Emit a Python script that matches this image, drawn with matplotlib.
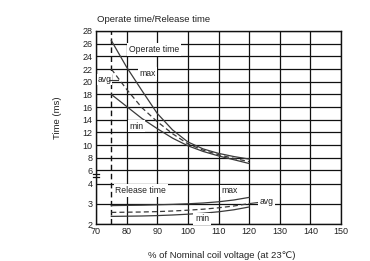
import numpy as np
from matplotlib import pyplot as plt

# coil voltage (% of nominal)
volt = [75, 80, 85, 90, 95, 100, 105, 110, 115, 120]

# operate time (ms)
op_max = [26.5, 22.3, 18.6, 15.0, 12.4, 10.5, 9.4, 8.7, 8.2, 7.8]
op_avg = [22.0, 18.8, 15.9, 13.7, 11.8, 10.2, 9.2, 8.5, 7.9, 7.4]
op_min = [18.0, 16.1, 14.2, 12.6, 11.1, 9.9, 9.0, 8.3, 7.7, 7.1]

# release time (ms)
rel_max = [2.92, 2.93, 2.94, 2.96, 2.98, 3.01, 3.05, 3.11, 3.2, 3.33]
rel_avg = [2.58, 2.59, 2.6, 2.62, 2.65, 2.69, 2.74, 2.81, 2.9, 3.02]
rel_min = [2.38, 2.39, 2.4, 2.42, 2.45, 2.49, 2.54, 2.61, 2.71, 2.85]

xticks = [70, 80, 90, 100, 110, 120, 130, 140, 150]
yticks = [2, 3, 4, 6, 8, 10, 12, 14, 16, 18, 20, 22, 24, 26, 28]

LO = 3.87   # position of 4 ms on the broken axis
K = 3.155   # stretch of the lower (release) part


def fwd(v):
    v = np.asarray(v, dtype=float)
    return np.where(v <= 4, LO + (v - 4) * K,
                    np.where(v < 6, LO + (v - 4) * (6 - LO) / 2, v))


def inv(p):
    p = np.asarray(p, dtype=float)
    return np.where(p <= LO, 4 + (p - LO) / K,
                    np.where(p < 6, 4 + (p - LO) * 2 / (6 - LO), p))


plt.rcParams['font.family'] = ['Liberation Sans', 'DejaVu Sans']

fig = plt.figure(figsize=(3.7, 2.61), dpi=100)
ax = fig.add_axes([96 / 370, 37 / 261, 245 / 370, 193 / 261])
ax.set_yscale('function', functions=(fwd, inv))
ax.set_xlim(70, 150)
ax.set_ylim(2, 28)
ax.set_xticks(xticks)
ax.set_yticks(yticks)
ax.tick_params(length=0, labelsize=6.5, pad=2.5, labelcolor='#222222')
ax.minorticks_off()
ax.grid(True, color='#111111', lw=0.9)
for s in ax.spines.values():
    s.set_color('#111111')
    s.set_linewidth(1.0)

ax.axvline(75, color='#111111', lw=1.0, ls=(0, (4, 2.5)), zorder=3)

c = '#3a3a3a'
ax.plot(volt, op_max, color=c, lw=0.9, zorder=4)
ax.plot(volt, op_avg, color=c, lw=0.9, ls=(0, (4, 2.5)), zorder=4)
ax.plot(volt, op_min, color=c, lw=0.9, zorder=4)
ax.plot(volt, rel_max, color=c, lw=0.9, zorder=4)
ax.plot(volt, rel_avg, color=c, lw=0.9, ls=(0, (4, 2.5)), zorder=4)
ax.plot(volt, rel_min, color=c, lw=0.9, zorder=4)

box = dict(facecolor='white', edgecolor='none', pad=1.2)
fs = 6.2
tc = '#222222'
ax.text(80.8, 25.1, 'Operate time', fontsize=fs, color=tc, va='center', ha='left', bbox=box, zorder=5)
ax.text(84.2, 21.3, 'max', fontsize=fs, color=tc, va='center', ha='left', bbox=box, zorder=5)
ax.text(70.5, 20.3, 'avg', fontsize=fs, color=tc, va='center', ha='left',
        bbox=dict(facecolor='white', edgecolor='none', pad=0.6), zorder=5)
ax.plot([74.3, 77.3], [20.3, 20.3], color=c, lw=0.8, zorder=6)
ax.text(80.9, 13.0, 'min', fontsize=fs, color=tc, va='center', ha='left', bbox=box, zorder=5)
ax.text(76.3, 3.68, 'Release time', fontsize=fs, color=tc, va='center', ha='left', bbox=box, zorder=5)
ax.text(111.0, 3.65, 'max', fontsize=fs, color=tc, va='center', ha='left', bbox=box, zorder=5)
ax.text(123.3, 3.1, 'avg', fontsize=fs, color=tc, va='center', ha='left', bbox=box, zorder=5)
ax.plot([120, 123.2], [3.02, 3.08], color=c, lw=0.8, zorder=4)
ax.text(102.3, 2.25, 'min', fontsize=fs, color=tc, va='center', ha='left', bbox=box, zorder=5)

# axis break marks
for yb in [5.08, 5.44]:
    ax.plot([69.1, 71.0], [yb, yb], color='#111111', lw=0.9, clip_on=False, zorder=6)

fig.text(97 / 370, 1 - 20 / 261, 'Operate time/Release time', fontsize=6.8, color=tc,
         va='center', ha='left')
fig.text(57 / 370, 1 - 118 / 261, 'Time (ms)', fontsize=6.8, color=tc, va='center',
         ha='center', rotation=90)
fig.text(222 / 370, 1 - 256 / 261, '% of Nominal coil voltage (at 23\u2103)', fontsize=6.8,
         color=tc, va='center', ha='center')

fig.savefig('out.png', dpi=100)
